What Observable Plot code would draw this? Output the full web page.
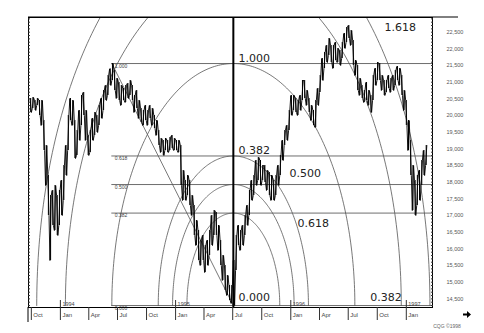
<!DOCTYPE html>
<html><head><meta charset="utf-8">
<script src="https://cdn.jsdelivr.net/npm/d3@7"></script>
<script src="https://cdn.jsdelivr.net/npm/@observablehq/plot@0.6"></script>
<style>
html,body{margin:0;padding:0;background:#fff;}
#chart svg{display:block;}
</style></head><body><div id="chart"></div>
<script>
// ---- data ----
const firstWeek = "1993-09-29";
const weeklyHigh = [20511,20541,20451,20511,20451,20451,19851,19101,18201,17601,17751,17901,17601,17751,18051,18501,19101,20001,20511,20451,
19851,19551,20151,20601,20691,20151,19401,19551,19911,20091,20001,20301,20511,20751,20901,21201,21400,21560,21351,21111,
20991,20901,20811,20901,20961,21051,20901,20601,20751,20451,20211,20151,20301,20151,20301,20211,20001,19851,19551,19311,
19251,19311,19251,19341,19401,19311,19251,19251,19101,18351,18051,18201,18051,17601,17301,16851,16551,16251,16401,16101,
16251,16551,17001,17151,17091,16701,16251,15801,15501,15201,14901,14901,15651,16401,16701,16551,16701,17001,17301,17751,
18051,18201,18651,18741,18651,18501,18501,18351,18291,18201,18051,18201,18501,18801,19251,19551,19701,20151,20601,20601,
20511,20451,20601,21051,21051,20751,20511,20301,20151,20451,20811,21201,21711,21891,22101,22311,22101,22101,22191,22011,
21951,22191,22461,22641,22701,22551,22251,21651,21501,21111,20901,20751,20991,20751,20601,21201,21411,21591,21561,21201,
21051,21051,21201,21111,21201,21351,21471,21411,21201,20751,20451,19851,19251,18501,18051,18201,18351,18651,18951,19101];
const weeklyLow = [20091,20211,20151,20301,20001,19701,18951,17901,17001,15651,16701,16551,16401,16701,17001,17451,18201,18951,19851,19701,
18711,18801,19251,19701,20001,19251,18801,18891,19251,19401,19491,19701,19911,20151,20451,20601,20901,21051,20751,20511,
20451,20301,20451,20391,20511,20601,20451,20091,20211,19911,19791,19701,19851,19701,19911,19701,19611,19401,19101,18891,
18801,18951,18891,18951,19011,18951,18951,18891,17901,17451,17451,17601,17301,17001,16401,16101,15651,15501,15651,15291,
15501,15801,16101,16401,16401,15951,15501,15051,14751,14601,14451,14361,14300,15351,16101,15951,16101,16401,16701,17001,
17451,17601,17901,18051,17901,18051,17991,17751,17601,17451,17451,17601,17901,18201,18651,19101,19251,19551,20001,20151,
20091,20001,20151,20451,20511,20301,20091,19851,19701,19641,20301,20691,21051,21411,21591,21801,21591,21411,21651,21591,
21501,21711,22011,22191,22311,22101,21501,21201,20751,20601,20511,20391,20451,20301,20091,20451,20901,21051,21051,20751,
20601,20691,20811,20691,20751,20901,21051,20901,20601,20151,19701,18951,18201,17151,17001,17301,17451,17901,18201,18501];

const highDate = "1994-06-13";
const highPrice = 21560;
const lowDate = "1995-07-03";
const lowPrice = 14300;
const retraceLevels = [0, 0.382, 0.5, 0.618, 1];
const arcRatios = [0.382, 0.5, 0.618, 1, 1.382, 1.618];

const bigLabels = ["1.618", "1.000", "0.382", "0.500", "0.618", "0.000", "0.382"];
const bigLabelDates = ["1996-10-24", "1995-07-19", "1995-07-19", "1995-12-28", "1996-01-22", "1995-07-19", "1996-09-09"];
const bigLabelPrices = [22551, 21621, 18861, 18171, 16671, 14451, 14451];

const priceTicks = [14500,15000,15500,16000,16500,17000,17500,18000,18500,19000,19500,20000,20500,21000,21500,22000,22500];
const monthTicks = ["1993-10-01","1994-01-01","1994-04-01","1994-07-01","1994-10-01","1995-01-01","1995-04-01","1995-07-01","1995-10-01","1996-01-01","1996-04-01","1996-07-01","1996-10-01","1997-01-01"];
const yearTicks = ["1994-01-01","1995-01-01","1996-01-01","1997-01-01"];
const xDomain = ["1993-09-22", "1997-03-25"];
const yDomain = [14241, 22941];

// ---- build ----
const W = 484, H = 333;
const mL = 28, mR = 52, mT = 17, mB = 26;
const hd = new Date(highDate), ld = new Date(lowDate);
const dt = ld - hd, dp = highPrice - lowPrice;
const bars = weeklyHigh.map((h, i) => ({date: d3.utcDay.offset(new Date(firstWeek), 7 * i), hi: h, lo: weeklyLow[i]}));
// zig-zag path through each week's high and low, to mimic the dense daily bars
const zig = bars.flatMap((b, i) => i % 2
  ? [{date: d3.utcDay.offset(b.date, -2), price: b.lo}, {date: d3.utcDay.offset(b.date, 2), price: b.hi}]
  : [{date: d3.utcDay.offset(b.date, -2), price: b.hi}, {date: d3.utcDay.offset(b.date, 2), price: b.lo}]);
const arcs = arcRatios.flatMap(r => d3.range(0, 181).map(a => ({
  r,
  date: new Date(+ld + r * dt * Math.cos(a * Math.PI / 180)),
  price: lowPrice + r * dp * Math.sin(a * Math.PI / 180)
})));
const levels = retraceLevels.map(f => ({f, price: lowPrice + f * dp}));
const trend = [{date: hd, price: highPrice}, {date: ld, price: lowPrice}];
const big = bigLabels.map((t, i) => ({t, date: new Date(bigLabelDates[i]), price: bigLabelPrices[i]}));
const minorTicks = d3.range(14300, 22901, 100);
const xMax = new Date(xDomain[1]);

const chart = Plot.plot({
  width: W, height: H,
  marginLeft: mL, marginRight: mR, marginTop: mT, marginBottom: mB,
  style: {background: "#fff", color: "#000", fontFamily: "'Liberation Sans Narrow', 'Liberation Sans', sans-serif", fontSize: "6px"},
  x: {type: "utc", domain: xDomain.map(d => new Date(d)), label: null},
  y: {domain: yDomain, label: null},
  marks: [
    Plot.ruleY(levels, {y: "price", x1: () => hd, x2: () => xMax, stroke: "#6e6e6e", strokeWidth: 1}),
    Plot.line(arcs, {x: "date", y: "price", z: "r", stroke: "#555", strokeWidth: 0.8, clip: true}),
    Plot.line(trend, {x: "date", y: "price", stroke: "#555", strokeWidth: 0.8}),
    Plot.ruleX(bars, {x: "date", y1: "lo", y2: "hi", stroke: "#000", strokeWidth: 1}),
    Plot.line(zig, {x: "date", y: "price", stroke: "#000", strokeWidth: 0.9, curve: "linear"}),
    Plot.ruleX([ld], {stroke: "#000", strokeWidth: 2}),
    Plot.text(levels, {x: () => hd, y: "price", text: d => d.f.toFixed(3), textAnchor: "start", dx: 3, dy: 2.5, fontSize: 5, fill: "#444"}),
    Plot.text(big, {x: "date", y: "price", text: "t", textAnchor: "start", lineAnchor: "bottom", fontSize: 11, fontFamily: "'DejaVu Sans', sans-serif", fill: "#222"}),
    Plot.frame({stroke: "#000", strokeWidth: 1}),
    Plot.axisY(priceTicks, {anchor: "right", tickSize: 0, tickPadding: 14, fontSize: 5.5, fill: "#555", textAnchor: "start"}),
    Plot.axisY(minorTicks, {anchor: "right", tickSize: -2, tickFormat: () => "", stroke: "#333"}),
    Plot.axisY(minorTicks, {anchor: "left", tickSize: -2, tickFormat: () => "", stroke: "#333"}),
    Plot.axisX(monthTicks.map(d => new Date(d)), {anchor: "bottom", tickSize: 13, tickFormat: () => "", stroke: "#333"}),
    Plot.axisX(monthTicks.map(d => new Date(d)), {anchor: "bottom", tickSize: 0, tickPadding: 5, dx: 2, textAnchor: "start", tickFormat: d3.utcFormat("%b"), fontSize: 6, fill: "#444"}),
    Plot.axisX(yearTicks.map(d => new Date(d)), {anchor: "bottom", tickSize: -7, tickFormat: () => "", stroke: "#333"}),
    Plot.text(yearTicks.map(d => new Date(d)), {x: d => d, frameAnchor: "bottom", lineAnchor: "bottom", dy: -2, dx: 2, text: d => String(d.getUTCFullYear()), textAnchor: "start", fontSize: 5.5, fill: "#444"})
  ]
});
document.getElementById("chart").appendChild(chart);

// frame decorations
const svg = d3.select(chart);
svg.append("line").attr("x1", mL).attr("x2", 458).attr("y1", mT).attr("y2", mT).attr("stroke", "#000");
svg.append("line").attr("x1", mL).attr("x2", mL).attr("y1", H - mB).attr("y2", H - mB + 15).attr("stroke", "#000");
svg.append("path").attr("d", "M463,313.5H467V311L471,314.5L467,318V315.5H463Z").attr("fill", "#000");
svg.append("text").attr("x", 447).attr("y", 328).attr("font-size", 5).attr("font-family", "'Liberation Sans', sans-serif").attr("fill", "#666").text("CQG ©1998");
</script></body></html>
